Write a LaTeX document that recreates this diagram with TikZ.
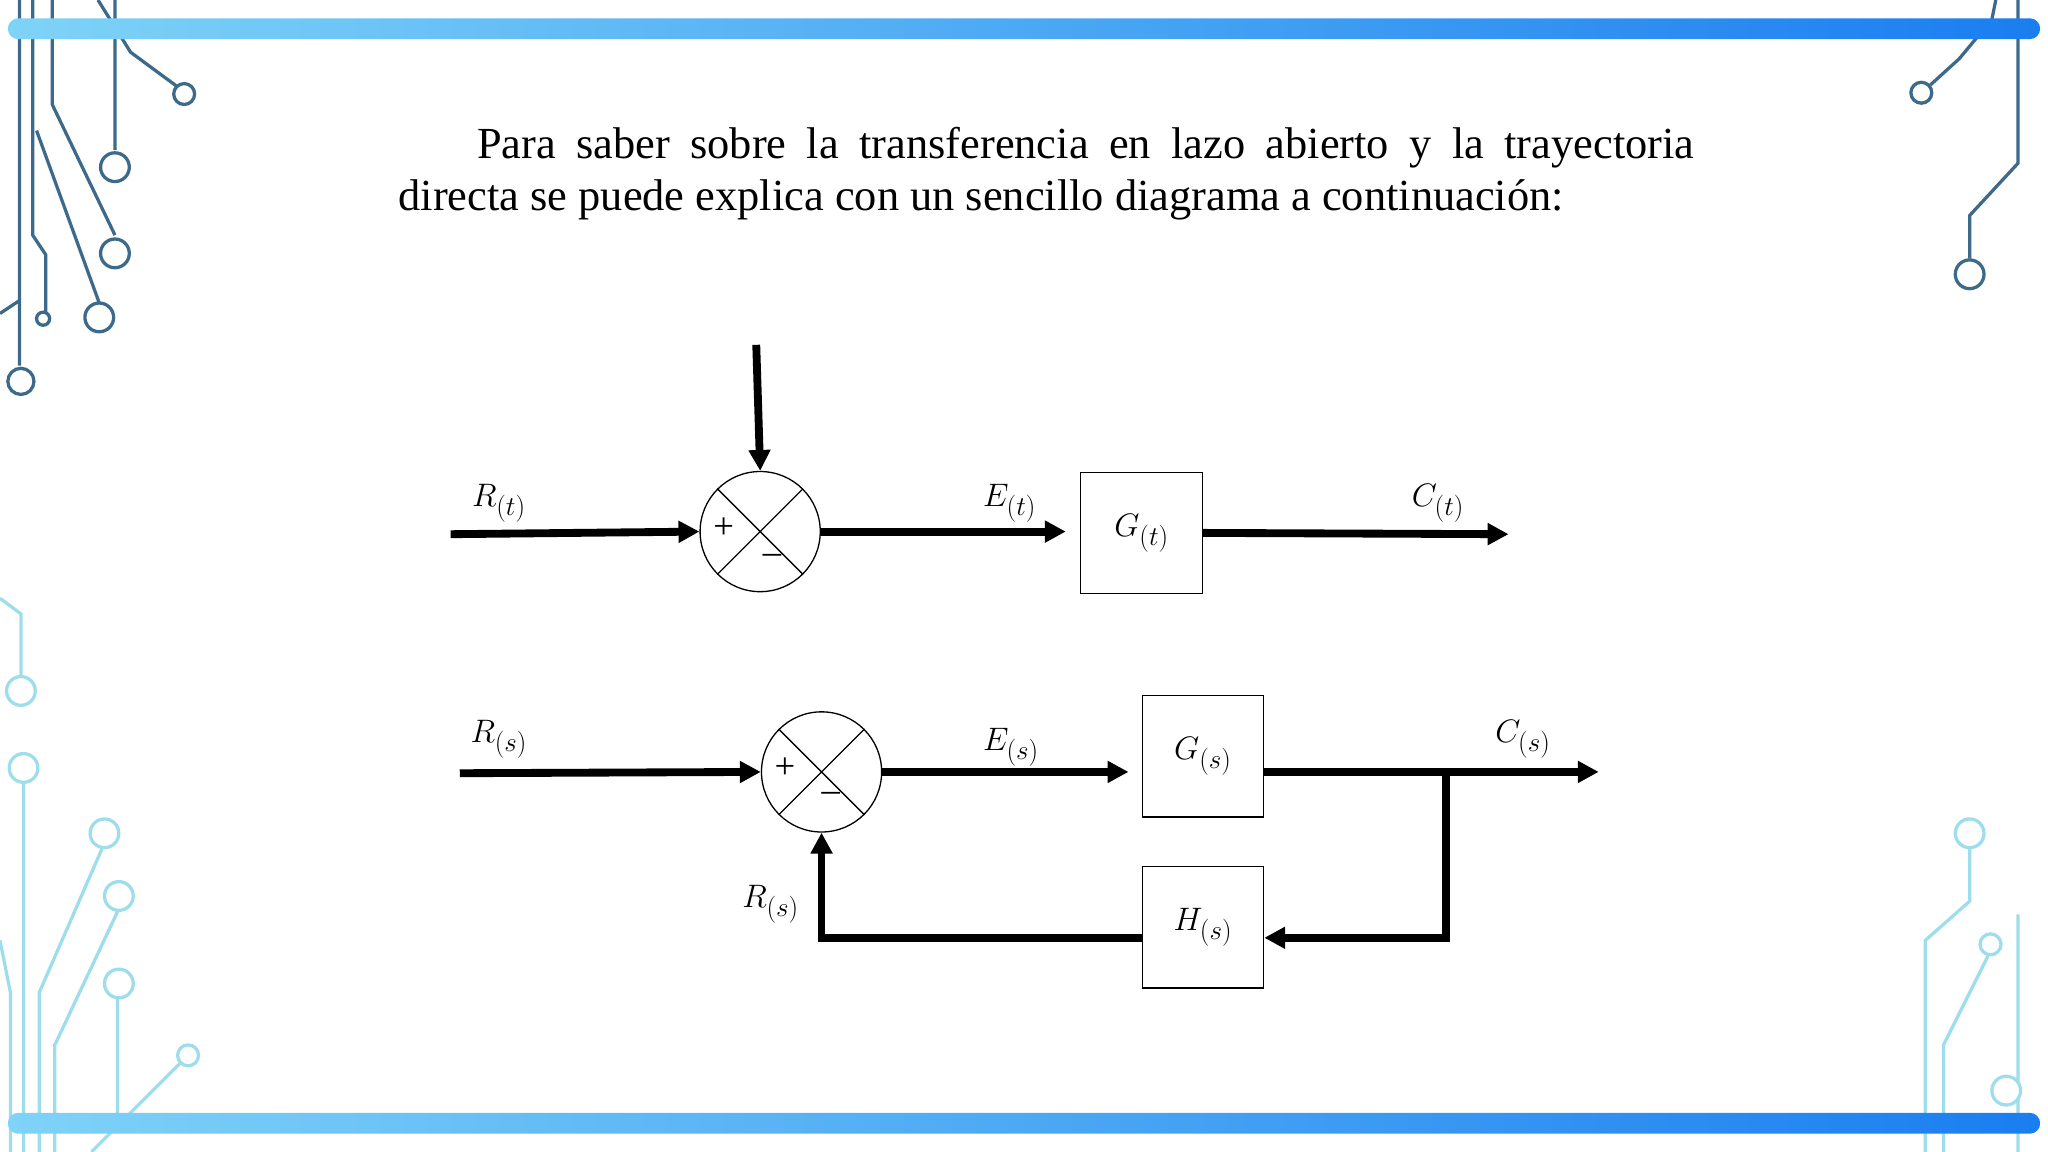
\documentclass[tikz,border=0pt]{standalone}
\usepackage{fontspec}
\setmainfont{Liberation Serif}
\usetikzlibrary{arrows.meta,calc}
\definecolor{cl}{HTML}{7FD3F7}
\definecolor{cd}{HTML}{1A7EF0}
\definecolor{dk}{HTML}{3D6A8A}
\definecolor{lt}{HTML}{9EDDEB}
\tikzset{
  wire/.style={line width=6pt},
  arr/.style={wire,-{Triangle[length=16pt,width=16pt]}},
  blk/.style={draw,line width=1pt,minimum width=93pt,minimum height=93pt,inner sep=0pt,font=\fontsize{28}{32}\selectfont},
  sumc/.style={draw,circle,line width=1pt,minimum size=92pt,inner sep=0pt},
  lab/.style={font=\fontsize{28}{32}\selectfont},
  dec/.style={line width=2.5pt},
  pad/.style={line width=2.5pt,fill=white}
}
\begin{document}
\begin{tikzpicture}[x=1pt,y=-1pt]
\useasboundingbox (0,0) rectangle (1568,882);
\fill[white] (0,0) rectangle (1568,882);
% circuit decorations top-left
\draw[dec,draw=dk] (15,0)--(15,280) (25,0)--(25,180)--(35,195)--(35,240) (40,0)--(40,80)--(88,180) (28,100)--(76,232) (88,0)--(88,115) (75,0)--(100,40)--(138,68) (0,240)--(15,230);
\draw[pad,draw=dk] (16,292) circle (10) (33,244) circle (5) (88,128) circle (11) (88,194) circle (11) (76,243) circle (11) (141,72) circle (8);
% top-right
\draw[dec,draw=dk] (1528,0)--(1525,15)--(1500,45)--(1478,65) (1545,0)--(1545,125)--(1508,165)--(1508,198);
\draw[pad,draw=dk] (1471,71) circle (8) (1508,210) circle (11);
% bottom-left light
\draw[dec,draw=lt] (0,458)--(16,470)--(16,517) (18,600)--(18,882) (78,650)--(30,760)--(30,882) (90,698)--(42,800)--(42,882) (90,765)--(90,860) (140,812)--(70,882) (0,720)--(8,760)--(8,882);
\draw[pad,draw=lt] (16,529) circle (11) (18,588) circle (11) (80,638) circle (11) (91,686) circle (11) (91,753) circle (11) (144,808) circle (8);
% bottom-right light
\draw[dec,draw=lt] (1508,650)--(1508,690)--(1474,720)--(1474,882) (1522,732)--(1488,800)--(1488,882) (1545,700)--(1545,882);
\draw[pad,draw=lt] (1508,638) circle (11) (1524,723) circle (8) (1536,835) circle (11);
% bars
\shade[left color=cl,right color=cd,rounded corners=8pt] (6,14) rectangle (1562,30);
\shade[left color=cl,right color=cd,rounded corners=8pt] (6,852) rectangle (1562,868);
% title
\node[anchor=north west,text width=992pt,align=justify,inner sep=0pt,font=\fontsize{34}{40}\selectfont] (title) at (305,97)
 {\hspace*{60pt}Para saber sobre la transferencia en lazo abierto y la trayectoria\linebreak directa se puede explica con un sencillo diagrama a continuación:};
% top diagram
\node[sumc] (s1) at (582,407) {};
\draw[line width=1pt] (s1.north west)--(s1.south east) (s1.north east)--(s1.south west);
\node[lab] at ($(s1)+(-28,-3)$) {+};
\node[lab] at ($(s1)+(9,17)$) {\_};
\node[blk] (g1) at (874,408) {$G_{(t)}$};
\coordinate (r1) at (345,409);
\coordinate (d1) at (579,264);
\coordinate (c1) at (1155,409);
\draw[arr] (r1)--(s1.west);
\draw[arr] (d1)--(s1.north);
\draw[arr] (s1.east)--(816,407);
\draw[arr] (g1.east)--(c1);
\node[lab] at (382,385) {$R_{(t)}$};
\node[lab] at (773,385) {$E_{(t)}$};
\node[lab] at (1101,385) {$C_{(t)}$};
% bottom diagram
\node[sumc] (s2) at (629,591) {};
\draw[line width=1pt] (s2.north west)--(s2.south east) (s2.north east)--(s2.south west);
\node[lab] at ($(s2)+(-28,-3)$) {+};
\node[lab] at ($(s2)+(7,15)$) {\_};
\node[blk] (g2) at (921,579) {$G_{(s)}$};
\node[blk] (h2) at (921,710) {$H_{(s)}$};
\coordinate (r2) at (352,592);
\coordinate (c2) at (1224,591);
\coordinate (b2) at (1107,591);
\coordinate (b3) at (1107,718);
\coordinate (b4) at (629,718);
\draw[arr] (r2)--(s2.west);
\draw[arr] (s2.east)--(864,591);
\draw[arr] (967,591)--(c2);
\draw[arr] (b2)--(b3)--(968,718);
\draw[arr] (875,718)--(b4)--(s2.south);
\node[lab] at (382,566) {$R_{(s)}$};
\node[lab] at (774,572) {$E_{(s)}$};
\node[lab] at (1166,566) {$C_{(s)}$};
\node[lab] at (590,692) {$R_{(s)}$};
\end{tikzpicture}
\end{document}
